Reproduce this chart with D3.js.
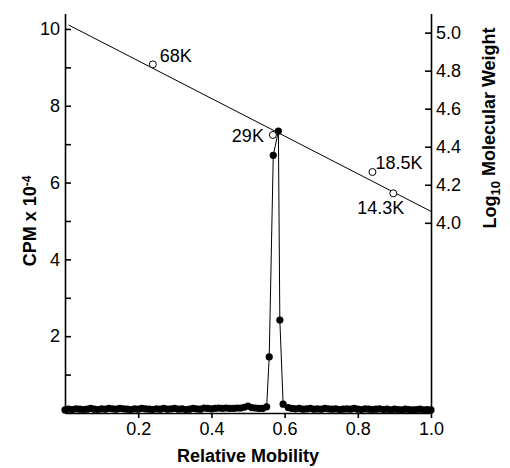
<!DOCTYPE html>
<html>
<head>
<meta charset="utf-8">
<script src="https://cdn.jsdelivr.net/npm/d3@7"></script>
<style>
  body { margin: 0; background: #fff; }
  text { font-family: "Liberation Sans", Arial, Helvetica, sans-serif; }
</style>
</head>
<body>
<div class="chart"></div>
<script>
// relative mobility of each gel fraction, and its counts (CPM x 10^-4)
var mobility = [
  0.00, 0.01, 0.02, 0.03, 0.04, 0.05, 0.06, 0.07, 0.08, 0.09,
  0.10, 0.11, 0.12, 0.13, 0.14, 0.15, 0.16, 0.17, 0.18, 0.19,
  0.20, 0.21, 0.22, 0.23, 0.24, 0.25, 0.26, 0.27, 0.28, 0.29,
  0.30, 0.31, 0.32, 0.33, 0.34, 0.35, 0.36, 0.37, 0.38, 0.39,
  0.40, 0.41, 0.42, 0.43, 0.44, 0.45, 0.46, 0.47, 0.48, 0.49,
  0.50, 0.51, 0.52, 0.53, 0.54,
  0.551, 0.558, 0.569, 0.583, 0.587, 0.596,
  0.61, 0.62, 0.63, 0.64, 0.65, 0.66, 0.67, 0.68, 0.69, 0.70,
  0.71, 0.72, 0.73, 0.74, 0.75, 0.76, 0.77, 0.78, 0.79, 0.80,
  0.81, 0.82, 0.83, 0.84, 0.85, 0.86, 0.87, 0.88, 0.89, 0.90,
  0.91, 0.92, 0.93, 0.94, 0.95, 0.96, 0.97, 0.98, 0.99, 1.00
];
var cpm = [
  0.08, 0.10, 0.09, 0.11, 0.10, 0.09, 0.10, 0.12, 0.10, 0.09,
  0.11, 0.10, 0.12, 0.11, 0.10, 0.12, 0.11, 0.10, 0.09, 0.11,
  0.10, 0.12, 0.11, 0.10, 0.09, 0.11, 0.10, 0.12, 0.10, 0.11,
  0.12, 0.10, 0.11, 0.09, 0.10, 0.12, 0.11, 0.10, 0.13, 0.12,
  0.11, 0.12, 0.13, 0.12, 0.13, 0.12, 0.12, 0.13, 0.13, 0.15,
  0.18, 0.14, 0.13, 0.12, 0.12,
  0.16, 1.46, 6.71, 7.34, 2.42, 0.23,
  0.14, 0.12, 0.11, 0.12, 0.10, 0.11, 0.12, 0.10, 0.11, 0.10,
  0.12, 0.11, 0.10, 0.11, 0.09, 0.10, 0.11, 0.10, 0.12, 0.10,
  0.09, 0.11, 0.10, 0.09, 0.10, 0.11, 0.09, 0.10, 0.08, 0.10,
  0.09, 0.08, 0.10, 0.09, 0.08, 0.09, 0.10, 0.08, 0.09, 0.08
];

// molecular weight standards
var stdLabels = ["68K", "29K", "18.5K", "14.3K"];
var stdMobility = [0.24, 0.568, 0.84, 0.897];
var stdLogMW = [4.833, 4.462, 4.267, 4.155];

// fitted standard curve, two end points (mobility, log10 MW)
var fitMobility = [0.01, 1.0];
var fitLogMW = [5.04, 4.06];

var leftTicks = [1, 2, 3, 4, 5, 6, 7, 8, 9, 10];
var rightTicks = [4.0, 4.2, 4.4, 4.6, 4.8, 5.0];
var bottomTicks = [0.2, 0.4, 0.6, 0.8, 1.0];

var svgWidth = 510;
var svgHeight = 468;

var margin = { top: 13.6, right: 79, bottom: 55, left: 65 };

var width = svgWidth - margin.left - margin.right;
var height = svgHeight - margin.top - margin.bottom;

var svg = d3.select(".chart")
  .append("svg")
  .attr("width", svgWidth)
  .attr("height", svgHeight);

var chartGroup = svg.append("g")
  .attr("transform", `translate(${margin.left}, ${margin.top})`);

var xScale = d3.scaleLinear().domain([0, 1]).range([0, width]);
var yLeft = d3.scaleLinear().domain([0, 10.4]).range([height, 0]);
var yRight = d3.scaleLinear().domain([3.0, 5.1]).range([height, 0]);

// axes
var leftAxis = d3.axisLeft(yLeft)
  .tickValues(leftTicks)
  .tickSizeInner(-6)
  .tickSizeOuter(0)
  .tickPadding(5)
  .tickFormat(d => d % 2 === 0 ? d : "");

var rightAxis = d3.axisRight(yRight)
  .tickValues(rightTicks)
  .tickSizeInner(-6)
  .tickSizeOuter(0)
  .tickPadding(5)
  .tickFormat(d3.format(".1f"));

var bottomAxis = d3.axisBottom(xScale)
  .tickValues(bottomTicks)
  .tickSizeInner(5)
  .tickSizeOuter(0)
  .tickPadding(4)
  .tickFormat(d3.format(".1f"));

function styleAxis(g) {
  g.selectAll("path, line").attr("stroke", "#000").attr("stroke-width", 1.6);
  g.selectAll("text").attr("fill", "#000").style("font-size", "18px");
}

chartGroup.append("g")
  .attr("transform", `translate(0, ${height})`)
  .call(bottomAxis)
  .call(styleAxis);

chartGroup.append("g")
  .call(leftAxis)
  .call(styleAxis);

chartGroup.append("g")
  .attr("transform", `translate(${width}, 0)`)
  .call(rightAxis)
  .call(styleAxis);

// standard curve
var fitData = fitMobility.map((m, i) => ({ m: m, v: fitLogMW[i] }));
chartGroup.append("path")
  .datum(fitData)
  .attr("fill", "none")
  .attr("stroke", "#000")
  .attr("stroke-width", 1)
  .attr("d", d3.line().x(d => xScale(d.m)).y(d => yRight(d.v)));

// counts profile
var profile = mobility.map((m, i) => ({ m: m, c: cpm[i] }));
chartGroup.append("path")
  .datum(profile)
  .attr("fill", "none")
  .attr("stroke", "#000")
  .attr("stroke-width", 1)
  .attr("d", d3.line().x(d => xScale(d.m)).y(d => yLeft(d.c)));

chartGroup.selectAll(".frac")
  .data(profile)
  .join("circle")
    .attr("class", "frac")
    .attr("cx", d => xScale(d.m))
    .attr("cy", d => yLeft(d.c))
    .attr("r", 3.6)
    .attr("fill", "#000");

// standards: open circles + labels
var stds = stdLabels.map((s, i) => ({ label: s, m: stdMobility[i], v: stdLogMW[i] }));
var labelOffset = {
  "68K": [7, -2, "start"],
  "29K": [-9, 7, "end"],
  "18.5K": [3, -3, "start"],
  "14.3K": [-36, 21, "start"]
};

chartGroup.selectAll(".std")
  .data(stds)
  .join("g")
    .attr("class", "std")
    .attr("transform", d => `translate(${xScale(d.m)},${yRight(d.v)})`)
  .call(g => g.append("circle")
    .attr("r", 3.5)
    .attr("fill", "#fff")
    .attr("stroke", "#000")
    .attr("stroke-width", 1))
  .call(g => g.append("text")
    .attr("x", d => labelOffset[d.label][0])
    .attr("y", d => labelOffset[d.label][1])
    .attr("text-anchor", d => labelOffset[d.label][2])
    .style("font-size", "18px")
    .text(d => d.label));

// axis titles
svg.append("text")
  .attr("x", margin.left + width / 2)
  .attr("y", 462)
  .attr("text-anchor", "middle")
  .style("font-size", "18px")
  .style("font-weight", "bold")
  .text("Relative Mobility");

var leftTitle = svg.append("text")
  .attr("transform", `translate(36, ${margin.top + yLeft(5)}) rotate(-90)`)
  .attr("text-anchor", "middle")
  .style("font-size", "18px")
  .style("font-weight", "bold");
leftTitle.append("tspan").text("CPM x 10");
leftTitle.append("tspan").attr("dy", "-0.45em").style("font-size", "12px").text("-4");

var rightTitle = svg.append("text")
  .attr("transform", `translate(496, 128) rotate(-90)`)
  .attr("text-anchor", "middle")
  .style("font-size", "18px")
  .style("font-weight", "bold");
rightTitle.append("tspan").text("Log");
rightTitle.append("tspan").attr("dy", "0.3em").style("font-size", "13px").text("10");
rightTitle.append("tspan").attr("dy", "-0.3em").text(" Molecular Weight");
</script>
</body>
</html>
